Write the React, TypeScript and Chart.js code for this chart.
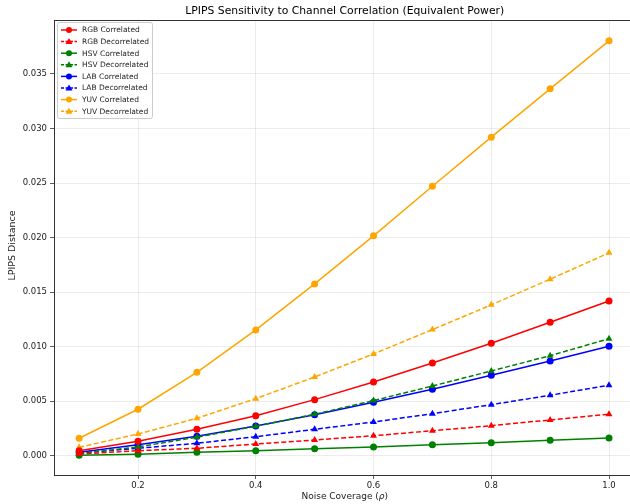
import React, { useEffect, useRef } from "react";
import { Chart, registerables } from "chart.js";

Chart.register(...registerables);

const rho = [0.1, 0.2, 0.3, 0.4, 0.5, 0.6, 0.7, 0.8, 0.9, 1.0];

const rgbCorr = [0.00046, 0.00132, 0.00242, 0.00367, 0.00514, 0.00676, 0.0085, 0.01031, 0.01224, 0.01419];
const rgbDecorr = [0.00015, 0.00046, 0.00068, 0.00107, 0.00144, 0.00183, 0.00229, 0.00275, 0.00328, 0.0038];
const hsvCorr = [0.00003, 0.00013, 0.00031, 0.00046, 0.00064, 0.0008, 0.00101, 0.00119, 0.00141, 0.00162];
const hsvDecorr = [0.0002, 0.0008, 0.0017, 0.0027, 0.0038, 0.00505, 0.00639, 0.00777, 0.00917, 0.01073];
const labCorr = [0.00031, 0.00101, 0.00178, 0.00272, 0.00376, 0.0049, 0.00609, 0.00737, 0.00869, 0.01004];
const labDecorr = [0.00025, 0.00068, 0.00114, 0.00174, 0.00242, 0.00309, 0.00385, 0.00468, 0.00554, 0.00646];
const yuvCorr = [0.0016, 0.00426, 0.00765, 0.01153, 0.01575, 0.02016, 0.02471, 0.02921, 0.03364, 0.03804];
const yuvDecorr = [0.00077, 0.00199, 0.00343, 0.00523, 0.00722, 0.00933, 0.01156, 0.01383, 0.01618, 0.0186];

const xTicks = [0.2, 0.4, 0.6, 0.8, 1.0];
const yTicks = [0, 0.005, 0.01, 0.015, 0.02, 0.025, 0.03, 0.035];

const seriesNames = [
  "RGB Correlated", "RGB Decorrelated", "HSV Correlated", "HSV Decorrelated",
  "LAB Correlated", "LAB Decorrelated", "YUV Correlated", "YUV Decorrelated",
];
const seriesValues = [rgbCorr, rgbDecorr, hsvCorr, hsvDecorr, labCorr, labDecorr, yuvCorr, yuvDecorr];
const seriesColors = ["#ff0000", "#ff0000", "#008000", "#008000", "#0000ff", "#0000ff", "#ffa500", "#ffa500"];

const FONT = "'DejaVu Sans', sans-serif";
const DASH = [5, 2.5];

const overlay = {
  id: "overlay",
  afterDraw(chart: any) {
    const { ctx, chartArea: a } = chart;
    const cx = (a.left + a.right) / 2;
    const cy = (a.top + a.bottom) / 2;
    ctx.save();
    // spines
    ctx.strokeStyle = "#333333";
    ctx.lineWidth = 1;
    ctx.strokeRect(a.left + 0.5, a.top + 0.5, a.right - a.left, a.bottom - a.top);
    // title
    ctx.fillStyle = "#000";
    ctx.font = `10.8px ${FONT}`;
    ctx.textAlign = "center";
    ctx.textBaseline = "middle";
    ctx.fillText("LPIPS Sensitivity to Channel Correlation (Equivalent Power)", cx, 11);
    // x axis title with italic rho
    ctx.fillStyle = "#222";
    const p1 = "Noise Coverage (";
    const p2 = "\u03c1";
    const p3 = ")";
    ctx.font = `9px ${FONT}`;
    const w1 = ctx.measureText(p1).width;
    const w3 = ctx.measureText(p3).width;
    ctx.font = `italic 9px ${FONT}`;
    const w2 = ctx.measureText(p2).width;
    let x0 = cx - (w1 + w2 + w3) / 2;
    ctx.textAlign = "left";
    ctx.font = `9px ${FONT}`;
    ctx.fillText(p1, x0, 497);
    ctx.font = `italic 9px ${FONT}`;
    ctx.fillText(p2, x0 + w1, 497);
    ctx.font = `9px ${FONT}`;
    ctx.fillText(p3, x0 + w1 + w2, 497);
    // y axis title
    ctx.textAlign = "center";
    ctx.font = `9.5px ${FONT}`;
    ctx.save();
    ctx.translate(13, cy - 2);
    ctx.rotate(-Math.PI / 2);
    ctx.fillText("LPIPS Distance", 0, 0);
    ctx.restore();
    // legend
    const lx = 57, ly = 22, lw = 95, lh = 96;
    ctx.fillStyle = "rgba(255,255,255,0.85)";
    ctx.strokeStyle = "#cccccc";
    ctx.lineWidth = 1;
    ctx.beginPath();
    (ctx as any).roundRect(lx + 0.5, ly + 0.5, lw, lh, 2);
    ctx.fill();
    ctx.stroke();
    ctx.font = `7.5px ${FONT}`;
    ctx.textAlign = "left";
    ctx.textBaseline = "middle";
    seriesNames.forEach((name, i) => {
      const y = 30 + i * 11.6;
      const c = seriesColors[i];
      const dashed = i % 2 === 1;
      ctx.strokeStyle = c;
      ctx.fillStyle = c;
      ctx.lineWidth = 1.5;
      ctx.setLineDash(dashed ? [3, 1.5] : []);
      ctx.beginPath();
      ctx.moveTo(61, y);
      ctx.lineTo(77, y);
      ctx.stroke();
      ctx.setLineDash([]);
      ctx.beginPath();
      if (dashed) {
        ctx.moveTo(69, y - 3.5);
        ctx.lineTo(72.5, y + 2.5);
        ctx.lineTo(65.5, y + 2.5);
        ctx.closePath();
      } else {
        ctx.arc(69, y, 3, 0, Math.PI * 2);
      }
      ctx.fill();
      ctx.fillStyle = "#222";
      ctx.fillText(name, 82, y + 0.5);
    });
    ctx.restore();
  },
};

export default function App() {
  const ref = useRef<HTMLCanvasElement>(null);
  useEffect(() => {
    const datasets = seriesNames.map((name, i) => {
      const dashed = i % 2 === 1;
      return {
        label: name,
        data: rho.map((x, j) => ({ x, y: seriesValues[i][j] })),
        borderColor: seriesColors[i],
        backgroundColor: seriesColors[i],
        borderWidth: 1.5,
        borderDash: dashed ? DASH : [],
        pointStyle: dashed ? "triangle" : "circle",
        pointRadius: dashed ? 4 : 3.5,
        pointBorderWidth: 0,
        pointHoverRadius: 3.5,
        tension: 0,
      };
    });
    const chart = new Chart(ref.current!, {
      type: "line",
      data: { datasets: datasets as any },
      options: {
        animation: false,
        responsive: false,
        events: [],
        layout: { padding: { top: 20, right: 4.5, left: 0, bottom: 0 } },
        plugins: { legend: { display: false }, title: { display: false }, tooltip: { enabled: false } },
        scales: {
          x: {
            type: "linear",
            min: 0.0573,
            max: 1.045,
            afterBuildTicks: (s: any) => { s.ticks = xTicks.map((v) => ({ value: v })); },
            afterFit: (s: any) => { s.height = 29; },
            ticks: {
              callback: (v: any) => Number(v).toFixed(1),
              font: { family: FONT, size: 8.5 },
              color: "#222",
              padding: 2,
              maxRotation: 0,
            },
            grid: { color: "rgba(176,176,176,0.3)", tickColor: "#333", tickLength: 4, lineWidth: 0.8 },
            border: { display: false },
          },
          y: {
            type: "linear",
            min: -0.00177,
            max: 0.03995,
            afterBuildTicks: (s: any) => { s.ticks = yTicks.map((v) => ({ value: v })); },
            afterFit: (s: any) => { s.width = 54; },
            ticks: {
              callback: (v: any) => Number(v).toFixed(3),
              font: { family: FONT, size: 8.5 },
              color: "#222",
              padding: 3,
            },
            grid: { color: "rgba(176,176,176,0.3)", tickColor: "#333", tickLength: 4, lineWidth: 0.8 },
            border: { display: false },
          },
        },
      },
      plugins: [overlay],
    });
    return () => chart.destroy();
  }, []);
  return (
    <div style={{ position: "fixed", left: 0, top: 0, width: 630, height: 504, overflow: "hidden", background: "#fff" }}>
      <canvas ref={ref} width={640} height={504} style={{ display: "block" }} />
    </div>
  );
}
